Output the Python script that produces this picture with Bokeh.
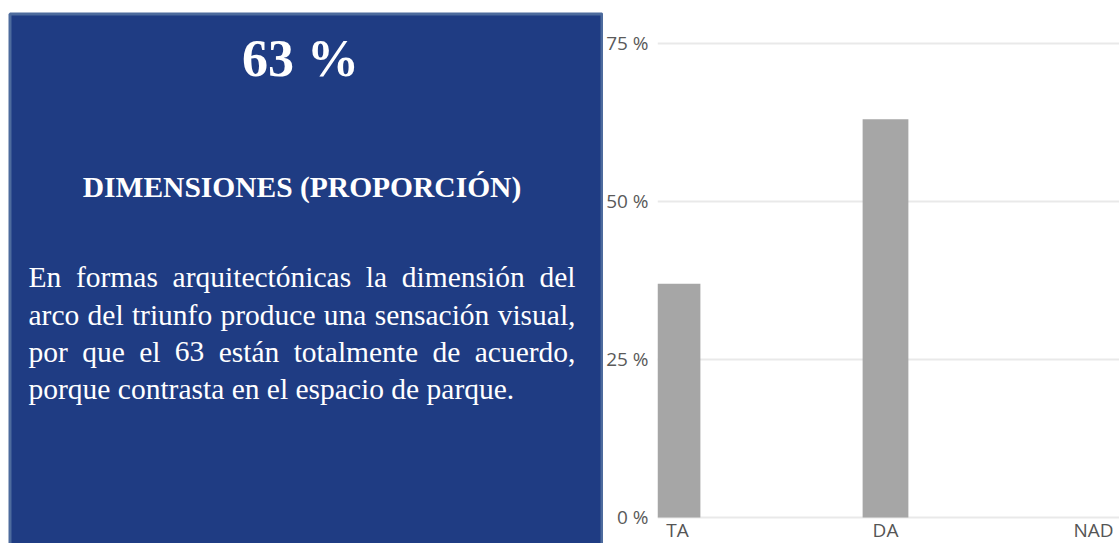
from bokeh.plotting import figure
from bokeh.layouts import row
from bokeh.models import Range1d, FixedTicker, PrintfTickFormatter, ColumnDataSource
from bokeh.core.properties import value
from bokeh.embed import file_html
from bokeh.resources import INLINE

# ---------------- data ----------------
categories = ["TA", "DA", "NAD"]
percentages = [37, 63, 0]
y_ticks = [0, 25, 50, 75]

headline = "63 %"
heading = "DIMENSIONES (PROPORCIÓN)"
paragraph_lines = [
    "En formas arquitectónicas la dimensión del",
    "arco del triunfo produce una sensación visual,",
    "por que el 63 están totalmente de acuerdo,",
    "porque contrasta en el espacio de parque.",
]

# ---------------- style ----------------
BLUE = "#1f3c83"
EDGE = "#4d6b9d"
SERIF = "Liberation Serif"
SANS = "Open Sans"
FS = 29.5  # paragraph font size (px)
H = 543

# Times-compatible advance widths (em) used to justify lines
W = {' ': .25, 'a': .444, 'b': .5, 'c': .444, 'd': .5, 'e': .444, 'f': .333, 'g': .5,
     'h': .5, 'i': .278, 'j': .278, 'k': .5, 'l': .278, 'm': .778, 'n': .5, 'o': .5,
     'p': .5, 'q': .5, 'r': .333, 's': .389, 't': .278, 'u': .5, 'v': .5, 'w': .722,
     'x': .5, 'y': .5, 'z': .444, 'á': .444, 'é': .444, 'í': .278, 'ó': .5, 'ú': .5,
     ',': .25, '.': .25, 'E': .611}


def wwidth(word):
    return sum(W.get(c, .5) for c in word) * FS


# ---------------- left text panel (pixel coordinates) ----------------
LW = 603
left = figure(width=LW, height=H, x_range=Range1d(0, LW), y_range=Range1d(H, 0),
              output_backend="svg", toolbar_location=None, min_border=0,
              x_axis_location=None, y_axis_location=None)
left.grid.visible = False
left.outline_line_color = None
left.background_fill_color = "white"
left.border_fill_color = "white"
left.quad(left=[9.5], right=[601.5], top=[13.5], bottom=[560],
          fill_color=BLUE, line_color=EDGE, line_width=3)

left.text(x=[300], y=[58], text=[headline], text_font=value(SERIF),
          text_font_size="52px", text_font_style="bold", text_color="white",
          text_align="center", text_baseline="alphabetic")
left.text(x=[301.5], y=[186], text=[heading], text_font=value(SERIF),
          text_font_size=f"{FS}px", text_font_style="bold", text_color="white",
          text_align="center", text_baseline="alphabetic")

x0, x1 = 28.0, 575.0
baselines = [276, 314, 351, 388]
wx, wy, wt = [], [], []
for i, line in enumerate(paragraph_lines):
    words = line.split(" ")
    if i < len(paragraph_lines) - 1:
        widths = [wwidth(w) for w in words]
        gap = (x1 - x0 - sum(widths)) / (len(words) - 1)
        x = x0
        for w, wd in zip(words, widths):
            wx.append(x); wy.append(baselines[i]); wt.append(w)
            x += wd + gap
    else:
        wx.append(x0); wy.append(baselines[i]); wt.append(line)

left.text(x="x", y="y", text="t", source=ColumnDataSource(dict(x=wx, y=wy, t=wt)),
          text_font=value(SERIF), text_font_size=f"{FS}px", text_color="white",
          text_align="left", text_baseline="alphabetic")

# ---------------- right bar chart ----------------
RW = 1119 - LW
right = figure(width=RW, height=H,
               x_range=Range1d(-0.0962, 2.125), y_range=Range1d(-4.114, 81.80),
               output_backend="svg", toolbar_location=None,
               min_border_left=54, min_border_right=0, min_border_top=0, min_border_bottom=0)
right.outline_line_color = None
right.background_fill_color = "white"
right.border_fill_color = "white"

right.vbar(x=list(range(len(categories))), top=percentages, width=0.22,
           fill_color="#a6a6a6", line_color=None)

right.xgrid.visible = False
right.ygrid.ticker = FixedTicker(ticks=y_ticks)
right.ygrid.grid_line_color = "#e9e9e9"
right.ygrid.grid_line_width = 2

xa = right.xaxis[0]
xa.ticker = FixedTicker(ticks=list(range(len(categories))))
xa.major_label_overrides = {i: c for i, c in enumerate(categories)}
xa.fixed_location = 0
xa.axis_line_color = None
xa.major_tick_line_color = None
xa.minor_tick_line_color = None
xa.major_label_standoff = -6
xa.major_label_text_font = SANS
xa.major_label_text_font_size = "19px"
xa.major_label_text_color = "#555555"

ya = right.yaxis[0]
ya.ticker = FixedTicker(ticks=y_ticks)
ya.formatter = PrintfTickFormatter(format="%d %%")
ya.axis_line_color = None
ya.major_tick_line_color = None
ya.minor_tick_line_color = None
ya.major_label_standoff = 3
ya.major_label_text_font = SANS
ya.major_label_text_font_size = "19px"
ya.major_label_text_color = "#5a5a5a"

layout = row(left, right)
open("out.html", "w").write(file_html(layout, INLINE))
